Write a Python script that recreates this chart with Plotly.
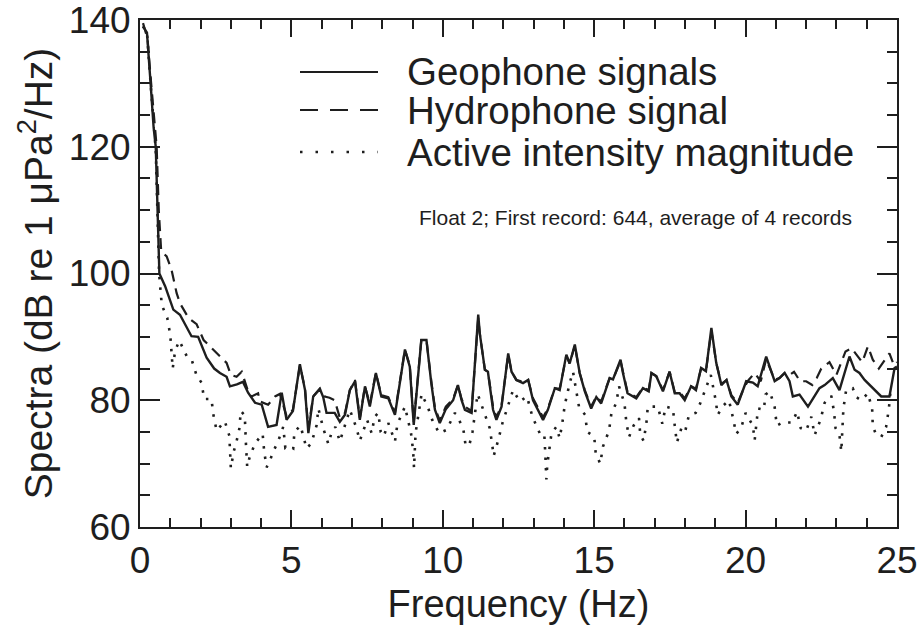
import plotly.graph_objects as go

# ---------------- data ----------------
geo_f = [0.1, 0.23, 0.35, 0.45, 0.52, 0.58, 0.64, 0.83, 1.1, 1.32, 1.5, 1.7, 1.92, 2.2, 2.45, 2.64, 2.86, 2.97,
         3.2, 3.4, 3.57, 3.8, 4.02, 4.23, 4.51, 4.68, 4.84, 5.05, 5.28, 5.45, 5.56, 5.72, 5.94, 6.05, 6.16, 6.43,
         6.6, 6.77, 6.93, 7.1, 7.26, 7.43, 7.59, 7.79, 7.97, 8.2, 8.42, 8.75, 8.91, 9.04, 9.29, 9.46, 9.62, 9.74,
         9.9, 10.1, 10.34, 10.5, 10.62, 10.73, 10.95, 11.17, 11.22, 11.39, 11.49, 11.66, 11.77, 11.94, 12.16,
         12.27, 12.43, 12.65, 12.82, 12.98, 13.31, 13.47, 13.7, 13.86, 14.08, 14.19, 14.36, 14.52, 14.69, 14.9,
         15.07, 15.23, 15.51, 15.62, 15.87, 15.95, 16.1, 16.39, 16.61, 16.8, 16.89, 17.05, 17.27, 17.49, 17.66,
         17.82, 17.99, 18.2, 18.36, 18.53, 18.69, 18.87, 19.03, 19.2, 19.37, 19.53, 19.74, 20.02, 20.24, 20.4,
         20.68, 20.84, 20.96, 21.12, 21.29, 21.45, 21.56, 21.78, 22.06, 22.23, 22.44, 22.61, 22.88, 23.1, 23.43,
         23.6, 23.76, 23.93, 24.2, 24.48, 24.75, 24.92, 25.0]
geo_db = [139, 138, 130, 123, 120, 110, 100, 98, 94.3, 93.5, 92, 90.1, 90, 86.7, 85, 84.3, 83.7, 82.2,
          82.5, 82.9, 81.2, 79.6, 79.3, 75.8, 76.1, 81.2, 76.9, 78.3, 85.7, 81.6, 74.8, 80.6, 81.8, 80.5, 78, 78,
          76.6, 77.7, 81.6, 83, 76.9, 82.2, 79, 84.3, 80.6, 80.3, 77.7, 88, 85.3, 76.1, 89.5, 89.5, 82.7, 78.5,
          76.4, 78.6, 80, 82.4, 80, 78.5, 78, 93.5, 90.6, 84.8, 84.5, 78.5, 76.9, 79, 87.4,
          84.5, 83.2, 82.7, 83.2, 80, 76.9, 78.5, 81.9, 81.6, 87.2, 85.8, 88.8, 84.3, 81.4, 78.7,
          80.5, 79.5, 83.5, 83.3, 86.4, 84.3, 81.1, 80.3, 81.9, 81.4, 84.3, 83.8, 81.4, 84.5, 81.1,
          81.1, 80, 82.2, 81.6, 85.1, 84.6, 91.4, 85.9, 82.4, 83.2, 80.6, 79.3, 83, 82.8, 82.2,
          86.9, 84.5, 83, 83.5, 84.3, 83, 80.6, 80.9, 79, 80.3, 81.9, 82.4, 83.5, 81.6, 86.9,
          84.8, 84.3, 83.2, 81.9, 80.6, 80.6, 85.1, 85.3]

hyd_f = [0.1, 0.25, 0.35, 0.45, 0.55, 0.62, 0.7, 0.88, 1.04, 1.21, 1.32, 1.6, 1.87, 2.1, 2.58, 2.86, 3.0, 3.19,
         3.36, 3.57, 3.69, 3.9, 3.96, 4.23, 4.46, 4.62, 4.84, 5.05, 5.28, 5.45, 5.56, 5.72, 5.94, 6.1, 6.26,
         6.43, 6.6, 6.77, 6.93, 7.1, 7.26, 7.43, 7.59, 7.79, 7.97, 8.2, 8.42, 8.75, 8.91, 9.04, 9.29, 9.46,
         9.62, 9.74, 9.9, 10.1, 10.34, 10.5, 10.62, 10.73, 10.95, 11.17, 11.22, 11.39, 11.49, 11.66, 11.77,
         11.94, 12.16, 12.27, 12.43, 12.65, 12.82, 12.98, 13.31, 13.47, 13.7, 13.86, 14.08, 14.19, 14.36,
         14.52, 14.69, 14.9, 15.07, 15.23, 15.51, 15.62, 15.87, 15.95, 16.1, 16.39, 16.61, 16.8, 16.89, 17.05,
         17.27, 17.49, 17.66, 17.82, 17.99, 18.2, 18.36, 18.53, 18.69, 18.87, 19.03, 19.2, 19.37, 19.53,
         19.74, 19.95, 20.1, 20.3, 20.5, 20.68, 20.84, 20.96, 21.12, 21.29, 21.45, 21.6, 21.8, 22.0, 22.2,
         22.35, 22.5, 22.77, 23.0, 23.15, 23.3, 23.5, 23.66, 23.85, 24.04, 24.2, 24.4, 24.55, 24.75, 24.9, 25.0]
hyd_db = [139.5, 137, 131, 125, 120, 110, 103.5, 102.7, 100.6, 96.9, 95.3, 93, 92, 89.5, 87.2, 85.9, 84, 83.7,
          84.5, 81.4, 80.6, 81.1, 79.8, 79.3, 80.6, 81, 77.5, 78.5, 85.5, 81.8, 75.5, 80.6, 81.8, 80.6, 80.4,
          80, 77.2, 78, 81.6, 83.2, 77.2, 82.2, 79.4, 84.3, 80.8, 80.5, 78, 88, 85.5, 76.5, 89.5, 89.5,
          83, 78.8, 76.8, 79, 80.2, 82.4, 80.2, 79, 78.3, 93, 90.6, 84.8, 84.5, 79, 77.3,
          79.2, 87.2, 84.5, 83.2, 82.9, 83.2, 80.3, 77.3, 78.7, 81.9, 81.8, 87, 85.8, 88.6,
          84.3, 81.6, 79, 80.6, 79.8, 83.5, 83.3, 86.2, 84.3, 81.3, 80.5, 82, 81.6, 84.3, 83.8,
          81.6, 84.5, 81.3, 81.3, 80.3, 82.2, 81.8, 85, 84.6, 91, 85.9, 82.6, 83.2, 80.8,
          79.6, 82, 83.2, 84.3, 83, 86.5, 84.5, 83.2, 83.5, 84.3, 84, 84.5, 83, 83, 82.4,
          83.5, 85, 86, 84, 85.8, 87.7, 88.2, 87.2, 86, 88.5, 86.4, 85, 86.1, 87.4, 85.5, 86]

act_f = [0.1, 0.23, 0.35, 0.45, 0.52, 0.58, 0.63, 0.72, 0.9, 1.0, 1.08, 1.16, 1.3, 1.54, 1.7, 1.87, 2.03, 2.12, 2.36,
         2.42, 2.53, 2.8, 2.95, 3.0, 3.1, 3.17, 3.28, 3.33, 3.46, 3.5, 3.54, 3.62, 3.8, 4.05, 4.1, 4.18, 4.3,
         4.4, 4.56, 4.73, 4.8, 4.9, 5.06, 5.1, 5.3, 5.5, 5.66, 5.83, 5.89, 6.05, 6.22, 6.32, 6.45, 6.6, 6.75,
         6.93, 7.15, 7.26, 7.5, 7.65, 7.75, 7.87, 7.95, 8.05, 8.2, 8.42, 8.5, 8.75, 8.95, 9.02, 9.05, 9.1, 9.3,
         9.5, 9.65, 9.88, 10.12, 10.4, 10.67, 10.75, 10.87, 10.98, 11.15, 11.3, 11.55, 11.64, 11.68, 11.83,
         11.97, 12.32, 12.54, 12.78, 12.96, 13.2, 13.35, 13.38, 13.42, 13.45, 13.59, 13.75, 13.86, 13.95,
         14.03, 14.19, 14.3, 14.5, 14.7, 14.77, 15.0, 15.05, 15.2, 15.29, 15.49, 15.57, 15.73, 15.82, 16.0,
         16.06, 16.15, 16.3, 16.48, 16.52, 16.63, 16.72, 16.77, 17.1, 17.25, 17.36, 17.6, 17.66, 17.73, 17.88,
         18.0, 18.13, 18.35, 18.5, 18.68, 18.85, 19.0, 19.08, 19.25, 19.45, 19.58, 19.69, 19.85, 20.0, 20.24,
         20.3, 20.41, 20.6, 20.66, 20.8, 20.96, 21.03, 21.23, 21.54, 21.7, 21.82, 22.0, 22.17, 22.28, 22.48,
         22.61, 22.83, 22.92, 22.97, 23.1, 23.16, 23.23, 23.32, 23.54, 23.65, 23.82, 24.04, 24.18, 24.2,
         24.29, 24.48, 24.64, 24.73, 24.78, 24.92, 25.0]
act_db = [139, 138, 130, 123, 119.5, 109, 100, 95, 93, 90.3, 85, 87.8, 89.4, 87, 86.5, 83.9, 82.8, 80.2, 80.2,
          77.8, 75.2, 76.7, 74.4, 69.3, 72, 73.1, 75.5, 78.3, 77.6, 73, 69.5, 71, 73.2, 74.7, 72, 69.4, 70.6,
          71.9, 73.5, 75.8, 72.5, 72.8, 72.4, 75, 76, 72.4, 73.2, 76, 78.7, 75.6, 73.1, 74.8, 75.8, 73.5, 75.8,
          78.5, 75.6, 73.6, 76.9, 74.8, 77.4, 78, 75, 74.3, 76.4, 73.5, 76.2, 79, 74.8, 72, 69.3, 74.8, 81,
          79, 76.9, 74.8, 75.3, 78, 75.7, 73, 72.8, 75, 81, 79, 75.6, 72.7, 71.2, 73.7,
          76.4, 81.6, 79.8, 80.6, 77.4, 74.8, 74.8, 72, 67.5, 69.8, 74.8, 75.8, 74, 76.5,
          79.3, 82.7, 84.5, 78.9, 77.7, 75, 74.3, 71.6, 70, 72.7, 75.2, 78, 79.6, 82.2, 79.5,
          76.6, 74.2, 76, 77.2, 74.6, 73.6, 76.2, 79, 79, 76.3, 79, 78.7, 76, 73.3, 75.6,
          75, 77.7, 78, 79.5, 81.9, 84, 80.3, 77.7, 79.1, 80, 77.3, 74.7, 75.6, 78, 76,
          73.7, 78.7, 78.5, 80.9, 81.4, 78.9, 76, 76.5, 76.5, 78.2, 75.6, 75.2, 77.4, 74.5, 77,
          79.6, 80.7, 78.2, 75.6, 74.5, 71.9, 78.7, 81.6, 81.9, 80.5, 80, 81.1, 78.6, 75.9,
          74.8, 74.2, 75.8, 78.6, 81.1, 81.1, 81]

legend_labels = ["Geophone signals", "Hydrophone signal", "Active intensity magnitude"]
note_text = "Float 2; First record: 644, average of 4 records"
x_title = "Frequency (Hz)"
y_title = "Spectra (dB re 1 \u03bcPa<sup>2</sup>/Hz)"

# ---------------- styling ----------------
INK = "#1e1e1e"
FONT = "Liberation Sans, Arial, Helvetica, sans-serif"

fig = go.Figure()
fig.add_trace(go.Scatter(x=act_f, y=act_db, mode="lines", name=legend_labels[2],
                         line=dict(color=INK, width=2.6, dash="2.5px,8px"), showlegend=False))
fig.add_trace(go.Scatter(x=hyd_f, y=hyd_db, mode="lines", name=legend_labels[1],
                         line=dict(color=INK, width=2.2, dash="11px,7px"), showlegend=False))
fig.add_trace(go.Scatter(x=geo_f, y=geo_db, mode="lines", name=legend_labels[0],
                         line=dict(color=INK, width=2.4), showlegend=False))

# legend drawn as layout elements (paper coordinates)
L, R = 140, 897
T, B = 20, 527
def px(xp):
    return (xp - L) / (R - L)
def py(yp):
    return (B - yp) / (B - T)

rows = [72, 110, 152]
dashes = [None, "18px,12px", "2.5px,13px"]
widths = [2.2, 2.2, 2.6]
for row, d, w, lab in zip(rows, dashes, widths, legend_labels):
    line = dict(color=INK, width=w)
    if d:
        line["dash"] = d
    fig.add_shape(type="line", xref="paper", yref="paper",
                  x0=px(300), x1=px(378), y0=py(row), y1=py(row), line=line)
    fig.add_annotation(xref="paper", yref="paper", x=px(405), y=py(row), text=lab,
                       showarrow=False, xanchor="left", yanchor="middle",
                       font=dict(family=FONT, size=38.5, color=INK))

fig.add_annotation(xref="paper", yref="paper", x=px(635), y=py(217), text=note_text,
                   showarrow=False, xanchor="center", yanchor="middle",
                   font=dict(family=FONT, size=21, color=INK))

axis_common = dict(showline=True, linecolor=INK, linewidth=2, mirror="ticks",
                   ticks="inside", tickcolor=INK, tickwidth=2, showgrid=False, zeroline=False,
                   ticklabeloverflow="allow",
                   tickfont=dict(family=FONT, size=37, color=INK))

fig.update_xaxes(range=[0, 25], tick0=0, dtick=5, ticklen=17,
                 minor=dict(ticks="inside", ticklen=9, dtick=1, tickwidth=2, tickcolor=INK, showgrid=False),
                 title=dict(text=x_title, font=dict(family=FONT, size=38, color=INK), standoff=10),
                 **axis_common)
fig.update_yaxes(range=[60, 140], tick0=60, dtick=20, ticklen=20,
                 minor=dict(ticks="inside", ticklen=10, dtick=5, tickwidth=2, tickcolor=INK, showgrid=False),
                 title=dict(text=y_title, font=dict(family=FONT, size=39, color=INK), standoff=4),
                 **axis_common)

fig.update_layout(width=924, height=633,
                  margin=dict(l=L, r=924 - R, t=T, b=633 - B, autoexpand=False),
                  paper_bgcolor="white", plot_bgcolor="white",
                  font=dict(family=FONT, color=INK))

fig.write_html("out.html")
